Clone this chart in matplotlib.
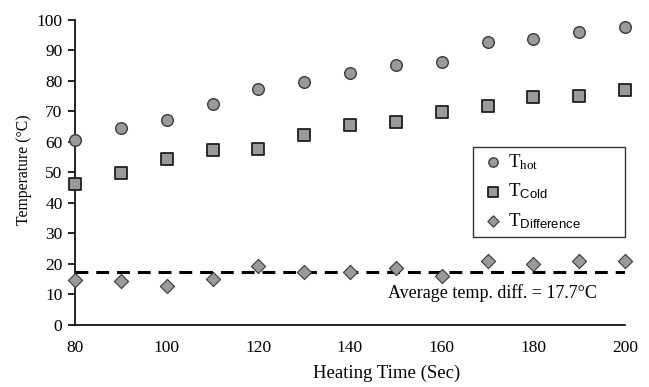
import matplotlib
matplotlib.use("Agg")
import matplotlib.pyplot as plt

time_s = [80, 90, 100, 110, 120, 130, 140, 150, 160, 170, 180, 190, 200]
t_hot = [60.7, 64.4, 67.2, 72.3, 77.3, 79.6, 82.5, 85.2, 86.3, 92.9, 93.9, 96.2, 97.6]
t_cold = [46.3, 49.9, 54.5, 57.2, 57.8, 62.4, 65.4, 66.4, 69.8, 71.8, 74.7, 75.1, 77.0]
t_diff = [14.8, 14.3, 12.8, 15.1, 19.4, 17.2, 17.2, 18.7, 16.1, 20.9, 20.0, 20.9, 20.9]
avg_line = 17.2
x_ticks = [80, 100, 120, 140, 160, 180, 200]
y_ticks = [0, 10, 20, 30, 40, 50, 60, 70, 80, 90, 100]

plt.rcParams['font.family'] = ['Liberation Serif', 'DejaVu Serif']
plt.rcParams['mathtext.fontset'] = 'custom'
plt.rcParams['mathtext.rm'] = 'Liberation Serif'
plt.rcParams['mathtext.it'] = 'Liberation Serif:italic'
plt.rcParams['mathtext.sf'] = 'Liberation Sans'

fig = plt.figure(figsize=(6.49, 3.87), dpi=100)
ax = fig.add_axes([75/649, 1-324.7/387, 550/649, 304.7/387])

face = '#9a9a9a'
edge = '#3a3a3a'
ax.scatter(time_s, t_hot, marker='o', s=70, facecolor=face, edgecolor=edge, linewidth=1.0, clip_on=False, zorder=3,
           label=r'T$_{\mathrm{hot}}$')
ax.scatter(time_s, t_cold, marker='s', s=72, facecolor=face, edgecolor='#202020', linewidth=1.3, clip_on=False, zorder=3,
           label=r'T$_{\mathsf{Cold}}$')
ax.scatter(time_s, t_diff, marker='D', s=52, facecolor=face, edgecolor=edge, linewidth=0.8, clip_on=False, zorder=3,
           label=r'T$_{\mathsf{Difference}}$' + '\u2003\u2003\u2003')
ax.plot([time_s[0], time_s[-1]], [avg_line, avg_line], color='black', linewidth=2.2, dashes=(4.2, 2.6), zorder=2)
ax.text(171, 10.4, 'Average temp. diff. = 17.7°C', ha='center', va='center', fontsize=13)

ax.set_xlim(80, 200)
ax.set_ylim(0, 100)
ax.set_xticks(x_ticks)
ax.set_yticks(y_ticks)
ax.spines['top'].set_visible(False)
ax.spines['right'].set_visible(False)
ax.spines['left'].set_linewidth(1.2)
ax.spines['bottom'].set_linewidth(1.2)
ax.tick_params(axis='x', length=0, pad=11, labelsize=12.5)
ax.tick_params(axis='y', length=5, width=1.2, direction='out', pad=4, labelsize=12.5)
ax.set_xlabel('Heating Time (Sec)', fontsize=13.5, labelpad=6)
ax.xaxis.label.set_x((387-75)/550)
ax.set_ylabel('Temperature (°C)', fontsize=11.3)
ax.yaxis.set_label_coords(-(75-32)/550, (324.7-170)/304.7)

leg = ax.legend(loc='upper left', bbox_to_anchor=((472.7-75)/550, (324.7-146.7)/304.7),
                frameon=True, fancybox=False, edgecolor='black', fontsize=13.5,
                borderpad=0.3, labelspacing=0.52, handletextpad=0.0, handlelength=1.6,
                borderaxespad=0, markerscale=0.8)
leg.get_frame().set_linewidth(1.0)

fig.savefig('out.png', dpi=100)
